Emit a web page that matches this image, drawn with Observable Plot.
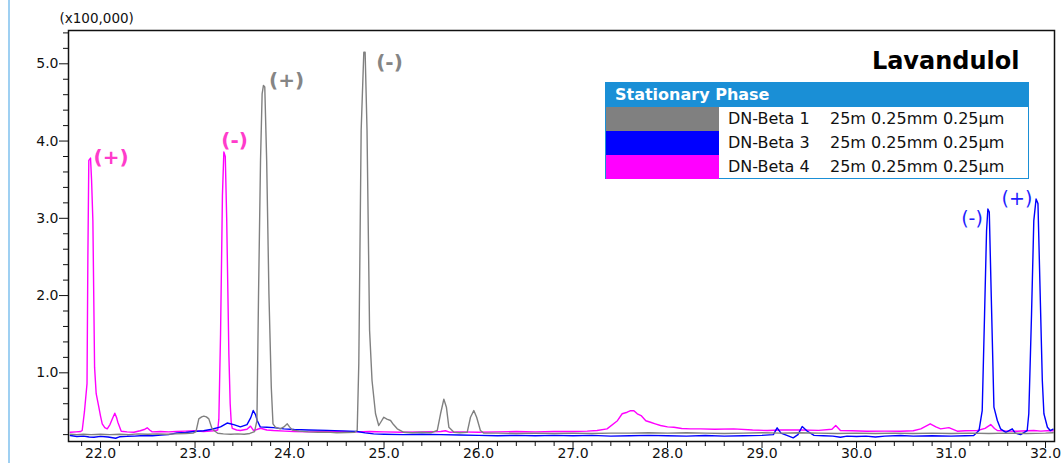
<!DOCTYPE html>
<html>
<head>
<meta charset="utf-8">
<script src="https://cdn.jsdelivr.net/npm/d3@7"></script>
<script src="https://cdn.jsdelivr.net/npm/@observablehq/plot@0.6"></script>
<style>
  html, body { margin: 0; padding: 0; background: #fff; }
  #wrap { position: relative; width: 1064px; height: 463px; overflow: hidden; font-family: "DejaVu Sans", sans-serif; }
  #edge { position: absolute; left: 8px; top: 0; width: 2px; height: 463px; background: #9fd0f2; }
  #legend { position: absolute; left: 605px; top: 82px; width: 422px; height: 95px; border: 1px solid #1a8fd6; background: #fff; }
  #legend .head { height: 24px; background: #1a8fd6; color: #fff; font-weight: bold; font-size: 16px; line-height: 24px; padding-left: 9px; }
  #legend .row { position: relative; height: 24px; font-size: 16px; line-height: 24px; color: #111; }
  #legend .sw { position: absolute; left: 0; top: 0; width: 113px; height: 24px; }
  #legend .nm { position: absolute; left: 122px; top: 0; }
  #legend .sp { position: absolute; left: 224px; top: 0; }
</style>
</head>
<body>
<div id="wrap"><div id="edge"></div></div>
<script>
// ---- Data (retention time in min, intensity in x100,000) ----
const seriesNames = ["DN-Beta 1", "DN-Beta 3", "DN-Beta 4"];
const seriesSpecs = ["25m 0.25mm 0.25μm", "25m 0.25mm 0.25μm", "25m 0.25mm 0.25μm"];
const seriesColors = ["#808080", "#0000ff", "#ff00ff"];
const chartTitle = "Lavandulol";
const legendTitle = "Stationary Phase";
const yUnitLabel = "(x100,000)";

const xMajorTicks = [22, 23, 24, 25, 26, 27, 28, 29, 30, 31, 32];
const xMinorTicks = [21.8, 22.2, 22.4, 22.6, 22.8, 23.2, 23.4, 23.6, 23.8, 24.2, 24.4, 24.6, 24.8,
  25.2, 25.4, 25.6, 25.8, 26.2, 26.4, 26.6, 26.8, 27.2, 27.4, 27.6, 27.8, 28.2, 28.4, 28.6, 28.8,
  29.2, 29.4, 29.6, 29.8, 30.2, 30.4, 30.6, 30.8, 31.2, 31.4, 31.6, 31.8];
const yMajorTicks = [1, 2, 3, 4, 5];
const yMinorTicks = [0.2, 0.4, 0.6, 0.8, 1.2, 1.4, 1.6, 1.8, 2.2, 2.4, 2.6, 2.8, 3.2, 3.4, 3.6, 3.8,
  4.2, 4.4, 4.6, 4.8, 5.2, 5.4];

// DN-Beta 1 (grey)
const beta1 = [
  [21.68,0.205],[21.75,0.2],[21.82,0.205],[21.9,0.2],[22.0,0.205],[22.1,0.2],[22.2,0.205],[22.3,0.2],
  [22.4,0.21],[22.5,0.205],[22.6,0.21],[22.7,0.205],[22.8,0.21],[22.9,0.215],[22.98,0.22],[23.01,0.24],
  [23.04,0.404],[23.07,0.43],[23.093,0.44],[23.12,0.43],[23.146,0.404],[23.18,0.275],[23.24,0.218],
  [23.3,0.21],[23.38,0.205],[23.45,0.21],[23.52,0.205],[23.58,0.215],[23.63,0.24],[23.655,0.38],
  [23.672,2.02],[23.693,3.75],[23.71,4.61],[23.724,4.72],[23.738,4.7],[23.758,3.75],[23.782,2.02],
  [23.807,0.81],[23.825,0.34],[23.85,0.296],[23.9,0.275],[23.94,0.3],[23.976,0.34],[24.0,0.3],
  [24.03,0.26],[24.1,0.245],[24.2,0.235],[24.3,0.23],[24.4,0.232],[24.5,0.225],[24.6,0.228],
  [24.69,0.23],[24.716,0.253],[24.733,1.12],[24.758,4.14],[24.786,5.15],[24.8,5.15],[24.82,4.14],
  [24.847,1.55],[24.873,0.9],[24.91,0.47],[24.944,0.318],[24.97,0.37],[24.998,0.425],[25.03,0.4],
  [25.069,0.383],[25.1,0.33],[25.14,0.275],[25.21,0.23],[25.3,0.225],[25.4,0.23],[25.5,0.225],
  [25.563,0.253],[25.598,0.47],[25.633,0.66],[25.66,0.555],[25.686,0.296],[25.74,0.23],[25.8,0.225],
  [25.88,0.23],[25.915,0.425],[25.95,0.512],[25.98,0.425],[26.02,0.253],[26.056,0.22],[26.2,0.22],
  [26.4,0.215],[26.6,0.22],[26.8,0.215],[27.0,0.22],[27.2,0.215],[27.4,0.22],[27.6,0.22],[27.8,0.225],
  [28.0,0.22],[28.2,0.225],[28.4,0.22],[28.6,0.215],[28.8,0.22],[29.0,0.225],[29.2,0.22],[29.4,0.225],
  [29.6,0.22],[29.8,0.215],[30.0,0.22],[30.2,0.215],[30.4,0.22],[30.6,0.215],[30.8,0.22],[31.0,0.215],
  [31.2,0.22],[31.4,0.215],[31.6,0.22],[31.8,0.215],[32.0,0.22],[32.08,0.225]
];

// DN-Beta 3 (blue)
const beta3 = [
  [21.68,0.188],[21.75,0.175],[21.82,0.18],[21.88,0.17],[21.93,0.166],[22.0,0.178],[22.08,0.17],
  [22.16,0.153],[22.2,0.172],[22.28,0.178],[22.36,0.18],[22.46,0.188],[22.55,0.185],[22.64,0.195],
  [22.72,0.2],[22.81,0.222],[22.9,0.228],[22.99,0.24],[23.09,0.25],[23.18,0.27],[23.27,0.3],
  [23.34,0.35],[23.41,0.33],[23.48,0.3],[23.55,0.33],[23.59,0.42],[23.616,0.512],[23.64,0.46],
  [23.658,0.383],[23.69,0.3],[23.76,0.295],[23.83,0.29],[23.94,0.275],[24.05,0.266],[24.2,0.26],
  [24.4,0.255],[24.55,0.248],[24.716,0.24],[24.8,0.222],[24.89,0.21],[25.0,0.205],[25.2,0.2],
  [25.4,0.205],[25.6,0.2],[25.8,0.195],[26.0,0.19],[26.2,0.185],[26.4,0.19],[26.6,0.185],[26.8,0.19],
  [27.0,0.185],[27.2,0.19],[27.4,0.18],[27.6,0.185],[27.8,0.19],[28.0,0.185],[28.2,0.18],[28.4,0.188],
  [28.6,0.18],[28.8,0.185],[29.0,0.19],[29.12,0.2],[29.16,0.288],[29.2,0.22],[29.27,0.188],
  [29.33,0.158],[29.38,0.2],[29.425,0.305],[29.48,0.244],[29.55,0.19],[29.65,0.185],[29.75,0.18],
  [29.83,0.166],[29.9,0.18],[30.0,0.175],[30.1,0.18],[30.2,0.17],[30.3,0.18],[30.466,0.188],
  [30.6,0.18],[30.8,0.185],[31.0,0.18],[31.15,0.185],[31.24,0.188],[31.296,0.253],[31.33,0.51],
  [31.355,1.76],[31.376,2.84],[31.39,3.12],[31.405,3.08],[31.426,1.98],[31.454,0.555],[31.49,0.383],
  [31.524,0.275],[31.58,0.23],[31.648,0.275],[31.68,0.22],[31.736,0.2],[31.806,0.253],[31.823,0.47],
  [31.852,1.76],[31.876,2.97],[31.9,3.25],[31.92,3.19],[31.94,2.19],[31.966,0.9],[31.983,0.47],
  [32.02,0.296],[32.05,0.253],[32.08,0.27]
];

// DN-Beta 4 (magenta)
const beta4 = [
  [21.68,0.23],[21.74,0.235],[21.79,0.24],[21.806,0.253],[21.83,0.5],[21.857,0.86],[21.866,2.5],
  [21.876,3.75],[21.894,3.78],[21.905,3.5],[21.919,2.97],[21.93,1.8],[21.937,1.07],[21.954,0.73],
  [21.982,0.555],[22.0,0.44],[22.018,0.34],[22.045,0.29],[22.071,0.275],[22.1,0.33],[22.123,0.4],
  [22.151,0.477],[22.17,0.42],[22.183,0.36],[22.219,0.244],[22.28,0.235],[22.353,0.231],[22.42,0.25],
  [22.47,0.27],[22.494,0.288],[22.52,0.26],[22.547,0.235],[22.635,0.24],[22.72,0.235],[22.8,0.24],
  [22.9,0.245],[22.987,0.25],[23.09,0.24],[23.2,0.25],[23.24,0.26],[23.252,0.4],[23.27,1.5],
  [23.29,3.3],[23.305,3.86],[23.32,3.8],[23.335,3.0],[23.358,1.245],[23.372,0.6],[23.383,0.36],
  [23.394,0.28],[23.44,0.26],[23.48,0.253],[23.55,0.27],[23.587,0.31],[23.62,0.253],[23.693,0.283],
  [23.76,0.26],[23.83,0.253],[23.95,0.245],[24.05,0.24],[24.2,0.235],[24.4,0.24],[24.57,0.24],
  [24.7,0.235],[24.85,0.24],[25.0,0.235],[25.2,0.23],[25.4,0.235],[25.6,0.24],[25.65,0.25],
  [25.7,0.23],[25.8,0.235],[26.0,0.23],[26.2,0.235],[26.4,0.24],[26.6,0.235],[26.8,0.24],[27.0,0.24],
  [27.15,0.245],[27.255,0.253],[27.36,0.275],[27.47,0.38],[27.52,0.47],[27.573,0.49],[27.61,0.51],
  [27.644,0.51],[27.68,0.47],[27.72,0.447],[27.77,0.38],[27.82,0.36],[27.87,0.34],[27.926,0.318],
  [28.0,0.3],[28.067,0.296],[28.15,0.28],[28.243,0.275],[28.35,0.275],[28.5,0.27],[28.7,0.275],
  [28.9,0.26],[29.055,0.253],[29.2,0.26],[29.41,0.26],[29.6,0.255],[29.74,0.27],[29.78,0.318],
  [29.83,0.253],[29.95,0.25],[30.11,0.244],[30.3,0.245],[30.466,0.244],[30.6,0.25],[30.68,0.275],
  [30.78,0.34],[30.84,0.3],[30.89,0.275],[30.977,0.29],[31.066,0.244],[31.15,0.25],[31.28,0.253],
  [31.36,0.28],[31.42,0.33],[31.46,0.28],[31.49,0.253],[31.6,0.245],[31.7,0.244],[31.8,0.25],
  [31.876,0.253],[31.95,0.245],[32.05,0.253],[32.08,0.25]
];

// Enantiomer annotations
const peakLabels = ["(+)", "(-)", "(+)", "(-)", "(-)", "(+)"];
const peakLabelX = [22.111, 23.418, 23.968, 25.058, 31.222, 31.698];
const peakLabelY = [3.787, 4.007, 4.783, 5.017, 2.997, 3.255];
const peakLabelSeries = [2, 2, 0, 0, 1, 1];

// ---- Build ----
const labelColors = ["#858585", "#1f1fff", "#ff3ccb"];
const labelWeights = ["bold", "normal", "bold"];
const labelSizes = [20, 19, 20];
const annotations = peakLabels.map((t, i) => ({
  text: t, x: peakLabelX[i], y: peakLabelY[i],
  fill: labelColors[peakLabelSeries[i]], weight: labelWeights[peakLabelSeries[i]],
  size: labelSizes[peakLabelSeries[i]]
}));
const traces = [beta4, beta3, beta1];
const traceColors = [seriesColors[2], seriesColors[1], seriesColors[0]];

const chart = Plot.plot({
  width: 1064,
  height: 463,
  marginLeft: 68,
  marginRight: 10,
  marginTop: 30,
  marginBottom: 22,
  style: { fontFamily: "DejaVu Sans, sans-serif", fontSize: "14px", color: "#111", background: "transparent", overflow: "visible" },
  x: { domain: [21.661, 32.095] },
  y: { domain: [0.111, 5.431] },
  marks: [
    ...traces.map((tr, i) => Plot.line(tr, { x: d => d[0], y: d => d[1], stroke: traceColors[i], strokeWidth: 1.4 })),
    Plot.frame({ stroke: "#111", strokeWidth: 1.5 }),
    Plot.axisX({ ticks: xMajorTicks, tickSize: 7, tickPadding: 0, tickFormat: d => d.toFixed(1), label: null, fontSize: 14 }),
    Plot.axisX({ ticks: xMinorTicks, tickSize: 5, tickFormat: () => "", label: null }),
    Plot.axisY({ ticks: yMajorTicks, tickSize: 9, tickPadding: 1, tickFormat: d => d.toFixed(1), label: null, fontSize: 14 }),
    Plot.axisY({ ticks: yMinorTicks, tickSize: 5, tickFormat: () => "", label: null }),
    ...annotations.map(a => Plot.text([a], { x: "x", y: "y", text: "text", fill: a.fill, fontSize: a.size, fontWeight: a.weight })),
    Plot.text([yUnitLabel], { frameAnchor: "top-left", dx: -9, dy: -17, fontSize: 13.5, textAnchor: "start", lineAnchor: "top" }),
    Plot.text([chartTitle], { frameAnchor: "top-right", dx: -35, dy: 21, fontSize: 24, fontWeight: "bold", textAnchor: "end", lineAnchor: "top", fill: "#000" })
  ]
});

const wrap = document.getElementById("wrap");
chart.style.position = "absolute";
chart.style.left = "0px";
chart.style.top = "0px";
wrap.appendChild(chart);

const legend = document.createElement("div");
legend.id = "legend";
const head = document.createElement("div");
head.className = "head";
head.textContent = legendTitle;
legend.appendChild(head);
seriesNames.forEach((name, i) => {
  const row = document.createElement("div");
  row.className = "row";
  const sw = document.createElement("div");
  sw.className = "sw";
  sw.style.background = seriesColors[i];
  const nm = document.createElement("span");
  nm.className = "nm";
  nm.textContent = name;
  const sp = document.createElement("span");
  sp.className = "sp";
  sp.textContent = seriesSpecs[i];
  row.append(sw, nm, sp);
  legend.appendChild(row);
});
wrap.appendChild(legend);
</script>
</body>
</html>
